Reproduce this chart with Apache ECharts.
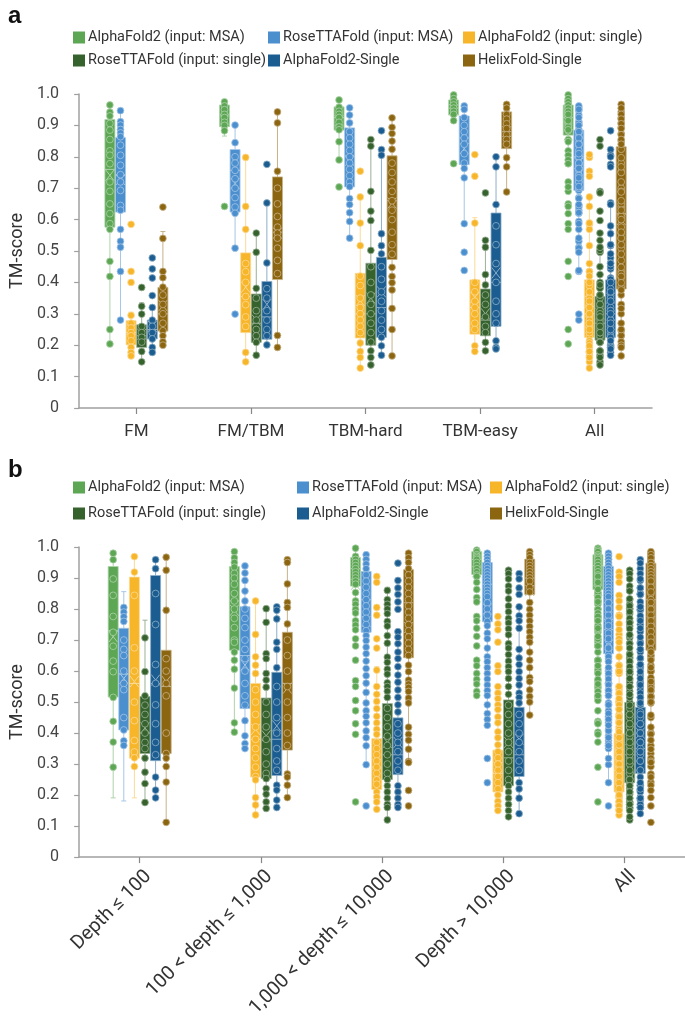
<!DOCTYPE html>
<html><head><meta charset="utf-8">
<script src="https://cdn.jsdelivr.net/npm/echarts/dist/echarts.min.js"></script>
<style>html,body{margin:0;padding:0;background:#fff}#c{width:685px;height:1022px}</style>
</head><body><div id="c"></div>
<script>
// ---------------- DATA ----------------
const categoriesA = ['FM', 'FM/TBM', 'TBM-hard', 'TBM-easy', 'All'];
const categoriesB = ['Depth ≤ 100', '100 < depth ≤ 1,000', '1,000 < depth ≤ 10,000', 'Depth > 10,000', 'All'];
const modelNames = ['AlphaFold2 (input: MSA)', 'RoseTTAFold (input: MSA)', 'AlphaFold2 (input: single)',
  'RoseTTAFold (input: single)', 'AlphaFold2-Single', 'HelixFold-Single'];
const yTicks = [0, 0.1, 0.2, 0.3, 0.4, 0.5, 0.6, 0.7, 0.8, 0.9, 1.0];

// box stats: [lower whisker, Q1, median, Q3, upper whisker, mean] per category
const boxA_af2msa = [[0.204,0.576,0.76,0.919,0.965,0.741],[0.866,0.896,0.93,0.965,0.975,0.92],[0.786,0.885,0.925,0.959,0.981,0.915],[0.912,0.933,0.955,0.981,0.997,0.95],[0.778,0.869,0.925,0.965,0.997,0.87]];
const boxA_rtfmsa = [[0.28,0.624,0.74,0.861,0.947,0.728],[0.509,0.624,0.757,0.823,0.901,0.715],[0.541,0.704,0.80,0.892,0.956,0.789],[0.587,0.775,0.86,0.930,0.962,0.826],[0.435,0.693,0.80,0.885,0.962,0.78]];
const boxA_af2single = [[0.166,0.201,0.24,0.278,0.305,0.25],[0.147,0.24,0.355,0.494,0.798,0.385],[0.127,0.223,0.30,0.429,0.672,0.342],[0.18,0.235,0.32,0.408,0.606,0.352],[0.127,0.225,0.30,0.408,0.672,0.34]];
const boxA_rtfsingle = [[0.147,0.193,0.23,0.265,0.335,0.235],[0.168,0.209,0.27,0.363,0.557,0.28],[0.137,0.20,0.30,0.461,0.834,0.35],[0.182,0.23,0.28,0.379,0.534,0.30],[0.142,0.216,0.27,0.355,0.557,0.30]];
const boxA_af2s = [[0.177,0.22,0.25,0.28,0.32,0.26],[0.201,0.219,0.29,0.403,0.653,0.33],[0.168,0.225,0.32,0.48,0.823,0.37],[0.188,0.26,0.40,0.621,0.80,0.43],[0.166,0.225,0.30,0.408,0.65,0.35]];
const boxA_helix = [[0.20,0.245,0.30,0.384,0.562,0.326],[0.193,0.409,0.56,0.736,0.943,0.557],[0.166,0.473,0.66,0.803,0.924,0.653],[0.688,0.826,0.88,0.943,0.967,0.88],[0.166,0.379,0.62,0.832,0.967,0.60]];

const boxB_af2msa = [[0.191,0.516,0.73,0.937,0.98,0.711],[0.403,0.667,0.826,0.937,0.985,0.796],[0.748,0.874,0.93,0.966,0.996,0.88],[0.905,0.911,0.96,0.985,0.99,0.92],[0.84,0.863,0.94,0.975,0.996,0.86]];
const boxB_rtfmsa = [[0.181,0.41,0.59,0.738,0.856,0.576],[0.35,0.479,0.65,0.807,0.943,0.619],[0.298,0.725,0.83,0.921,0.975,0.76],[0.425,0.759,0.88,0.95,0.98,0.8],[0.24,0.656,0.82,0.937,0.98,0.75]];
const boxB_af2single = [[0.191,0.319,0.56,0.903,0.97,0.566],[0.136,0.258,0.38,0.56,0.826,0.412],[0.154,0.218,0.29,0.382,0.614,0.30],[0.148,0.21,0.27,0.345,0.55,0.29],[0.14,0.21,0.28,0.398,0.67,0.33]];
const boxB_rtfsingle = [[0.176,0.334,0.40,0.518,0.764,0.417],[0.157,0.253,0.38,0.513,0.801,0.391],[0.12,0.25,0.33,0.495,0.87,0.37],[0.13,0.23,0.32,0.507,0.93,0.37],[0.12,0.24,0.33,0.499,0.93,0.38]];
const boxB_af2s = [[0.191,0.311,0.56,0.908,0.96,0.571],[0.16,0.263,0.38,0.596,0.807,0.423],[0.16,0.266,0.33,0.449,0.72,0.37],[0.14,0.26,0.33,0.483,0.807,0.38],[0.14,0.27,0.35,0.483,0.81,0.40]];
const boxB_helix = [[0.112,0.334,0.55,0.667,0.967,0.566],[0.192,0.345,0.56,0.725,0.959,0.545],[0.305,0.643,0.82,0.927,0.98,0.74],[0.458,0.847,0.90,0.961,0.985,0.86],[0.25,0.667,0.83,0.948,0.985,0.76]];

// individual TM-scores for the four subgroups (the "All" column shows all of them)
const ptsA_af2msa = [
  [0.965,0.942,0.930,0.906,0.885,0.855,0.819,0.805,0.778,0.72,0.69,0.65,0.619,0.587,0.569,0.467,0.419,0.25,0.204],
  [0.975,0.962,0.95,0.935,0.925,0.91,0.90,0.883,0.642],
  [0.981,0.958,0.945,0.935,0.925,0.91,0.895,0.886,0.848,0.79,0.704],
  [0.997,0.985,0.975,0.965,0.955,0.945,0.935,0.915,0.778]];
const ptsA_rtfmsa = [
  [0.947,0.912,0.901,0.887,0.876,0.864,0.837,0.805,0.773,0.743,0.720,0.693,0.645,0.630,0.569,0.531,0.512,0.435,0.28],
  [0.901,0.845,0.80,0.78,0.757,0.73,0.70,0.67,0.64,0.62,0.509,0.299],
  [0.956,0.933,0.908,0.88,0.86,0.84,0.82,0.80,0.78,0.76,0.74,0.72,0.705,0.667,0.648,0.622,0.594,0.541],
  [0.962,0.951,0.925,0.90,0.88,0.86,0.84,0.81,0.78,0.763,0.733,0.587,0.496,0.438]];
const ptsA_af2single = [
  [0.585,0.435,0.40,0.295,0.27,0.255,0.24,0.23,0.214,0.193,0.177,0.166],
  [0.798,0.642,0.569,0.46,0.434,0.40,0.355,0.329,0.29,0.26,0.177,0.147],
  [0.754,0.672,0.589,0.517,0.42,0.39,0.35,0.32,0.30,0.28,0.26,0.24,0.207,0.18,0.161,0.127],
  [0.807,0.738,0.589,0.40,0.37,0.34,0.32,0.30,0.27,0.25,0.198,0.18]];
const ptsA_rtfsingle = [
  [0.384,0.324,0.299,0.26,0.24,0.225,0.21,0.18,0.147],
  [0.557,0.496,0.381,0.35,0.31,0.28,0.25,0.23,0.209,0.168],
  [0.855,0.834,0.69,0.627,0.597,0.502,0.45,0.40,0.36,0.33,0.30,0.27,0.24,0.21,0.182,0.161,0.137],
  [0.685,0.534,0.512,0.425,0.392,0.36,0.33,0.29,0.26,0.24,0.209,0.182]];
const ptsA_af2s = [
  [0.478,0.443,0.414,0.358,0.32,0.28,0.26,0.24,0.22,0.193,0.177],
  [0.776,0.653,0.462,0.38,0.35,0.31,0.28,0.25,0.23,0.201],
  [0.883,0.823,0.805,0.555,0.517,0.491,0.45,0.41,0.37,0.34,0.31,0.28,0.25,0.225,0.198,0.168],
  [0.80,0.768,0.648,0.58,0.52,0.46,0.40,0.34,0.30,0.27,0.214,0.193,0.188]];
const ptsA_helix = [
  [0.64,0.54,0.435,0.415,0.385,0.36,0.33,0.30,0.27,0.246,0.23,0.211,0.20],
  [0.943,0.908,0.754,0.70,0.65,0.61,0.576,0.557,0.541,0.509,0.47,0.428,0.231,0.193],
  [0.924,0.894,0.874,0.85,0.824,0.78,0.75,0.72,0.69,0.66,0.63,0.60,0.56,0.52,0.49,0.448,0.419,0.399,0.376,0.317,0.25,0.166],
  [0.967,0.955,0.935,0.92,0.905,0.89,0.87,0.855,0.84,0.797,0.768,0.688]];

const ptsB_af2msa = [
  [0.98,0.959,0.897,0.844,0.776,0.725,0.680,0.632,0.598,0.515,0.438,0.371,0.290],
  [0.985,0.965,0.95,0.935,0.915,0.90,0.88,0.85,0.826,0.80,0.77,0.74,0.70,0.693,0.661,0.635,0.606,0.545,0.433,0.403],
  [0.996,0.97,0.96,0.95,0.94,0.93,0.92,0.91,0.90,0.89,0.88,0.853,0.826,0.815,0.799,0.787,0.762,0.748,0.733,0.704,0.681,0.635,0.569,0.55,0.505,0.472,0.43,0.396,0.178],
  [0.99,0.985,0.975,0.97,0.965,0.96,0.95,0.94,0.93,0.92,0.91,0.905,0.886,0.863,0.837,0.823,0.776,0.762,0.738,0.712,0.681,0.635,0.617,0.592,0.573,0.558,0.534,0.521]];
const ptsB_rtfmsa = [
  [0.805,0.79,0.775,0.76,0.70,0.67,0.65,0.60,0.56,0.54,0.45,0.41,0.375,0.36],
  [0.939,0.916,0.892,0.858,0.826,0.80,0.77,0.74,0.70,0.67,0.64,0.60,0.56,0.52,0.49,0.44,0.391,0.366,0.35],
  [0.975,0.96,0.945,0.93,0.91,0.89,0.87,0.85,0.83,0.81,0.79,0.77,0.75,0.73,0.714,0.698,0.677,0.656,0.632,0.608,0.585,0.561,0.531,0.497,0.472,0.454,0.433,0.407,0.385,0.359,0.298,0.165],
  [0.98,0.97,0.96,0.95,0.94,0.93,0.92,0.91,0.90,0.89,0.88,0.87,0.86,0.85,0.84,0.82,0.80,0.78,0.76,0.746,0.722,0.704,0.674,0.646,0.63,0.611,0.592,0.574,0.555,0.537,0.521,0.491,0.463,0.444,0.425,0.318,0.24]];
const ptsB_af2single = [
  [0.969,0.919,0.844,0.675,0.60,0.50,0.44,0.376,0.339,0.32,0.292],
  [0.826,0.718,0.646,0.619,0.592,0.54,0.50,0.46,0.42,0.38,0.35,0.32,0.29,0.26,0.249,0.192,0.168,0.136],
  [0.905,0.886,0.805,0.78,0.704,0.674,0.603,0.55,0.525,0.502,0.479,0.454,0.433,0.412,0.396,0.37,0.35,0.33,0.31,0.29,0.27,0.25,0.249,0.235,0.21,0.194,0.178,0.154],
  [0.776,0.752,0.733,0.693,0.617,0.598,0.55,0.529,0.511,0.491,0.476,0.452,0.433,0.404,0.385,0.362,0.34,0.32,0.30,0.28,0.26,0.24,0.22,0.20,0.18,0.165,0.15]];
const ptsB_rtfsingle = [
  [0.707,0.598,0.52,0.49,0.46,0.43,0.40,0.37,0.35,0.319,0.274,0.237,0.176],
  [0.801,0.757,0.656,0.64,0.592,0.571,0.548,0.50,0.46,0.42,0.38,0.34,0.30,0.27,0.253,0.221,0.203,0.178,0.157],
  [0.86,0.83,0.815,0.80,0.785,0.76,0.745,0.714,0.69,0.645,0.628,0.606,0.59,0.562,0.55,0.535,0.515,0.48,0.45,0.42,0.39,0.36,0.33,0.30,0.27,0.25,0.23,0.21,0.19,0.17,0.16,0.12],
  [0.925,0.914,0.897,0.874,0.858,0.833,0.81,0.791,0.77,0.755,0.736,0.717,0.688,0.674,0.653,0.632,0.614,0.598,0.576,0.55,0.525,0.49,0.46,0.43,0.40,0.37,0.34,0.31,0.28,0.25,0.23,0.21,0.19,0.17,0.15,0.13]];
const ptsB_af2s = [
  [0.959,0.930,0.85,0.75,0.621,0.56,0.491,0.43,0.37,0.33,0.258,0.216,0.191],
  [0.807,0.796,0.768,0.693,0.67,0.611,0.55,0.50,0.45,0.40,0.35,0.31,0.28,0.232,0.216,0.184,0.16],
  [0.948,0.892,0.868,0.847,0.823,0.799,0.727,0.709,0.688,0.661,0.64,0.614,0.587,0.564,0.539,0.515,0.491,0.468,0.43,0.40,0.37,0.34,0.31,0.28,0.23,0.21,0.19,0.17,0.16],
  [0.914,0.897,0.868,0.847,0.807,0.778,0.762,0.738,0.67,0.642,0.621,0.598,0.576,0.555,0.529,0.515,0.497,0.46,0.43,0.40,0.37,0.34,0.31,0.28,0.24,0.22,0.19,0.14]];
const ptsB_helix = [
  [0.967,0.925,0.796,0.64,0.60,0.56,0.52,0.40,0.334,0.319,0.292,0.242,0.112],
  [0.959,0.95,0.881,0.821,0.805,0.752,0.70,0.65,0.60,0.55,0.50,0.45,0.40,0.36,0.268,0.258,0.232,0.192],
  [0.98,0.965,0.95,0.93,0.91,0.89,0.87,0.85,0.83,0.81,0.79,0.77,0.75,0.73,0.71,0.69,0.67,0.65,0.619,0.598,0.571,0.558,0.547,0.534,0.513,0.497,0.419,0.396,0.377,0.348,0.309,0.305,0.215,0.165],
  [0.985,0.975,0.965,0.95,0.94,0.93,0.92,0.91,0.90,0.89,0.87,0.855,0.821,0.799,0.78,0.762,0.744,0.727,0.709,0.693,0.661,0.635,0.611,0.579,0.566,0.539,0.518,0.5,0.458]];

// ---------------- STYLE ----------------
const colors = ['#5ca654', '#4b8fcf', '#f7b52a', '#35622d', '#1b5d90', '#8c6510'];
const tints  = ['#aed3aa', '#a5c7e7', '#fbda95', '#9ab196', '#8daec8', '#c6b288'];
const SPACING = 10.6, BOXW = 10;
const FONT = 'Roboto';

const boxesA = [boxA_af2msa, boxA_rtfmsa, boxA_af2single, boxA_rtfsingle, boxA_af2s, boxA_helix];
const boxesB = [boxB_af2msa, boxB_rtfmsa, boxB_af2single, boxB_rtfsingle, boxB_af2s, boxB_helix];
const ptsA = [ptsA_af2msa, ptsA_rtfmsa, ptsA_af2single, ptsA_rtfsingle, ptsA_af2s, ptsA_helix];
const ptsB = [ptsB_af2msa, ptsB_rtfmsa, ptsB_af2single, ptsB_rtfsingle, ptsB_af2s, ptsB_helix];

function boxRender(m) {
  const off = (m - 2.5) * SPACING;
  return function (params, api) {
    const ci = api.value(0);
    const cx = api.coord([ci, 0])[0] + off;
    const y = k => api.coord([ci, api.value(k)])[1];
    const yLo = y(1), yQ1 = y(2), yMed = y(3), yQ3 = y(4), yHi = y(5), yMean = y(6);
    const hw = BOXW / 2, cap = 2.5, mx = 4.3, my = 5.5;
    const ls = { stroke: tints[m], lineWidth: 1 };
    return { type: 'group', children: [
      { type: 'line', shape: { x1: cx, y1: yHi, x2: cx, y2: yLo }, style: ls },
      { type: 'line', shape: { x1: cx - cap, y1: yHi, x2: cx + cap, y2: yHi }, style: ls },
      { type: 'line', shape: { x1: cx - cap, y1: yLo, x2: cx + cap, y2: yLo }, style: ls },
      { type: 'rect', shape: { x: cx - hw, y: yQ3, width: BOXW, height: yQ1 - yQ3 },
        style: { fill: colors[m], stroke: tints[m], lineWidth: 0.8 } },
      { type: 'line', shape: { x1: cx - hw, y1: yMed, x2: cx + hw, y2: yMed }, style: ls },
      { type: 'line', shape: { x1: cx - mx, y1: yMean - my, x2: cx + mx, y2: yMean + my }, style: ls },
      { type: 'line', shape: { x1: cx - mx, y1: yMean + my, x2: cx + mx, y2: yMean - my }, style: ls }
    ] };
  };
}

const series = [];
[[boxesA, ptsA], [boxesB, ptsB]].forEach(([boxes, pts], p) => {
  for (let m = 0; m < 6; m++) {
    series.push({
      type: 'custom', name: modelNames[m], xAxisIndex: p, yAxisIndex: p, z: 2,
      itemStyle: { color: colors[m] },
      renderItem: boxRender(m),
      encode: { x: 0, y: [1, 2, 3, 4, 5] },
      data: boxes[m].map((s, ci) => [ci].concat(s))
    });
    const groups = pts[m].concat([pts[m].flat()]);
    const data = [];
    groups.forEach((g, ci) => g.forEach(v => data.push([ci, v])));
    series.push({
      type: 'scatter', name: modelNames[m], xAxisIndex: p, yAxisIndex: p, z: 3,
      symbolSize: 6.8, symbolOffset: [(m - 2.5) * SPACING, 0],
      itemStyle: { color: colors[m], borderColor: tints[m], borderWidth: 0.8, opacity: 1 },
      emphasis: { disabled: true },
      data
    });
  }
});

function yAxis(grid) {
  return {
    type: 'value', gridIndex: grid, min: 0, max: 1, interval: 0.1,
    name: 'TM-score', nameLocation: 'middle', nameGap: 50,
    nameTextStyle: { fontSize: 18, color: '#333', fontFamily: FONT },
    axisLine: { show: true, lineStyle: { color: '#a0a0a0', width: 1.5 } },
    axisTick: { show: true, length: 5, lineStyle: { color: '#a0a0a0', width: 1.2 } },
    splitLine: { show: false },
    axisLabel: { fontSize: 16, color: '#444', fontFamily: FONT, margin: 20,
      formatter: v => yTicks.some(t => Math.abs(t - v) < 1e-9) ? (v === 0 ? '0' : v.toFixed(1)) : '' }
  };
}
function xAxis(grid, cats, rotate) {
  const lab = rotate
    ? { fontSize: 19.5, color: '#333', fontFamily: FONT, rotate: rotate, margin: 8, interval: 0, verticalAlign: 'top', lineHeight: 24 }
    : { fontSize: 17, color: '#333', fontFamily: FONT, margin: 15, interval: 0 };
  return {
    type: 'category', gridIndex: grid, data: cats, boundaryGap: true,
    axisLine: { show: true, lineStyle: { color: '#a0a0a0', width: 1.5 } },
    axisTick: { show: true, alignWithLabel: true, length: 6, lineStyle: { color: '#888', width: 1.2 } },
    axisLabel: lab
  };
}
function legendCol(names, left, top, gap) {
  return { data: names, left, top, orient: 'vertical', itemGap: gap, itemWidth: 12, itemHeight: 12,
    icon: 'rect', selectedMode: false, padding: 0,
    itemStyle: { borderWidth: 0 },
    textStyle: { fontSize: 14.5, color: '#333', fontFamily: FONT, padding: [0, 0, 0, -2] } };
}

const option = {
  animation: false,
  backgroundColor: '#fff',
  grid: [
    { left: 69, right: 33, top: 94, height: 314 },
    { left: 68, right: 0, top: 547, height: 314 }
  ],
  xAxis: [xAxis(0, categoriesA, 0), xAxis(1, categoriesB, 45)],
  yAxis: [yAxis(0), yAxis(1)],
  legend: [
    legendCol([modelNames[0], modelNames[3]], 73, 30, 8),
    legendCol([modelNames[1], modelNames[4]], 268, 30, 8),
    legendCol([modelNames[2], modelNames[5]], 463, 30, 8),
    legendCol([modelNames[0], modelNames[3]], 73, 480, 11),
    legendCol([modelNames[1], modelNames[4]], 297, 480, 11),
    legendCol([modelNames[2], modelNames[5]], 490, 480, 11)
  ],
  graphic: [
    { type: 'text', left: 8, top: 4, style: { text: 'a', fontSize: 24, fontWeight: 'bold', fill: '#111', fontFamily: 'Liberation Sans' } },
    { type: 'text', left: 8, top: 458, style: { text: 'b', fontSize: 24, fontWeight: 'bold', fill: '#111', fontFamily: 'Liberation Sans' } }
  ],
  series
};

const chart = echarts.init(document.getElementById('c'), null, { renderer: 'canvas' });
chart.setOption(option);
</script></body></html>
